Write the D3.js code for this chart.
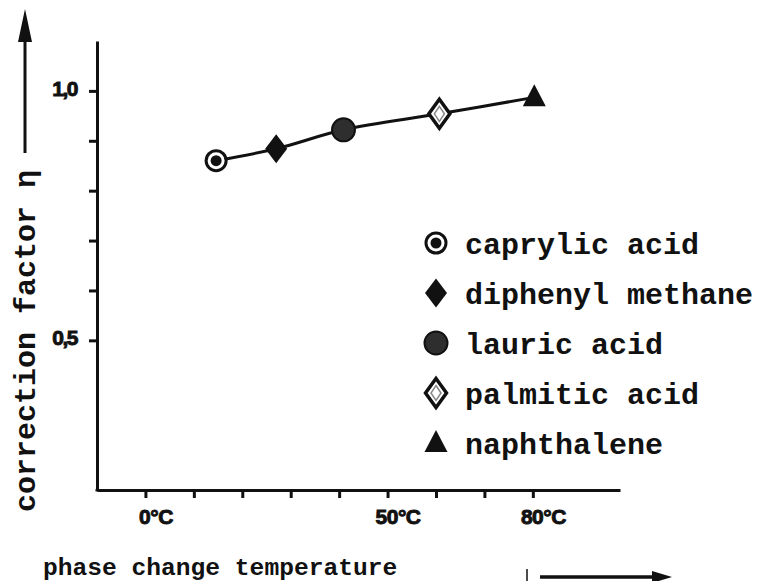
<!DOCTYPE html>
<html>
<head>
<meta charset="utf-8">
<script src="https://cdn.jsdelivr.net/npm/d3@7"></script>
<style>
  body { margin: 0; background: #fff; }
  svg { display: block; }
  .mono { font-family: "Courier New", "Liberation Mono", monospace; font-weight: bold; fill: #111; }
  .tick text { font-family: "Liberation Sans", Arial, sans-serif; font-weight: bold; fill: #111; stroke: #111; stroke-width: 0.9px; }
</style>
</head>
<body>
<svg id="chart" width="763" height="581"></svg>
<script>
// data
var materials = ["caprylic acid", "diphenyl methane", "lauric acid", "palmitic acid", "naphthalene"];
var markerKinds = ["ring", "diamond", "dot", "diamondOpen", "triangle"];
var meltTemps = [14.6, 27.0, 40.9, 60.7, 80.3];
var corrFactors = [0.860, 0.884, 0.922, 0.954, 0.987];

var xTicks = [0, 10, 20, 30, 40, 50, 60, 70, 80];
var xTickLabels = {0: "0°C", 50: "50°C", 80: "80°C"};
var yTicks = [0.5, 0.6, 0.7, 0.8, 0.9, 1.0];
var yTickLabels = {"0.5": "0,5", "1": "1,0"};

var xTitle = "phase change temperature";
var yTitle = "correction factor η";

var svg = d3.select("#chart");
var ink = "#111";

var x = d3.scaleLinear().domain([-10, 98]).range([97, 620]);
var y = d3.scaleLinear().domain([0.2, 1.1]).range([490, 41]);

// axes
var xAxis = svg.append("g")
    .attr("transform", "translate(0," + y(0.2) + ")")
    .call(d3.axisBottom(x)
      .tickValues(xTicks)
      .tickSize(8)
      .tickSizeOuter(0)
      .tickPadding(11)
      .tickFormat(function(d){ return xTickLabels[d] || ""; }));
xAxis.selectAll("text").style("font-size", "21px").attr("dx", 10).attr("letter-spacing", -0.5);

var yAxis = svg.append("g")
    .attr("transform", "translate(" + x(-10) + ",0)")
    .call(d3.axisLeft(y)
      .tickValues(yTicks)
      .tickSize(8)
      .tickSizeOuter(0)
      .tickPadding(12)
      .tickFormat(function(d){ return yTickLabels[String(d)] || ""; }));
yAxis.selectAll("text").style("font-size", "21px").attr("dy", "0.2em").attr("letter-spacing", -1.5);

svg.selectAll(".domain, .tick line").attr("stroke", ink).attr("stroke-width", 3);
// axes should meet in the corner
svg.append("line").attr("x1", x(-10)).attr("x2", x(-10)).attr("y1", y(0.2) - 1).attr("y2", y(0.2) + 1.5)
    .attr("stroke", ink).attr("stroke-width", 3);

// fitted curve
var pts = meltTemps.map(function(t, i){ return [t, corrFactors[i]]; });
var line = d3.line()
    .x(function(d){ return x(d[0]); })
    .y(function(d){ return y(d[1]); })
    .curve(d3.curveCatmullRom);
svg.append("path")
    .datum(pts)
    .attr("d", line)
    .attr("fill", "none")
    .attr("stroke", ink)
    .attr("stroke-width", 3);

function diamond(w, h) {
  return "M0," + (-h) + "L" + w + ",0L0," + h + "L" + (-w) + ",0Z";
}

function drawMarker(g, kind) {
  if (kind === "ring") {
    g.append("circle").attr("r", 11.5).attr("fill", ink);
    g.append("circle").attr("r", 8.5).attr("fill", "#fff");
    g.append("circle").attr("r", 5.5).attr("fill", ink);
  } else if (kind === "diamond") {
    g.append("path").attr("d", diamond(11, 14.5)).attr("fill", ink);
  } else if (kind === "dot") {
    g.append("circle").attr("r", 11.5).attr("fill", "#2e2e2e").attr("stroke", ink).attr("stroke-width", 2);
  } else if (kind === "diamondOpen") {
    g.append("path").attr("d", diamond(10.5, 14.5)).attr("fill", "#fff")
      .attr("stroke", ink).attr("stroke-width", 3.5);
    g.append("path").attr("d", diamond(5, 7.5)).attr("fill", "none")
      .attr("stroke", "#888").attr("stroke-width", 1.5);
  } else if (kind === "triangle") {
    g.append("path").attr("d", "M0,-13L11.5,9L-11.5,9Z").attr("fill", ink);
  }
}

// points
materials.forEach(function(m, i){
  var g = svg.append("g")
      .attr("transform", "translate(" + x(meltTemps[i]) + "," + y(corrFactors[i]) + ")");
  drawMarker(g, markerKinds[i]);
});

// legend
var legend = svg.append("g").attr("transform", "translate(436,243)");
materials.forEach(function(m, i){
  var row = legend.append("g").attr("transform", "translate(0," + (i * 50) + ")");
  drawMarker(row, markerKinds[i]);
  row.append("text")
      .attr("class", "mono")
      .attr("x", 29)
      .attr("y", 11)
      .attr("font-size", 30)
      .text(m);
});

// axis titles with arrows
svg.append("text")
    .attr("class", "mono")
    .attr("transform", "translate(35,512) rotate(-90)")
    .attr("font-size", 30)
    .text(yTitle);
svg.append("line").attr("x1", 25).attr("x2", 25).attr("y1", 153).attr("y2", 38)
    .attr("stroke", ink).attr("stroke-width", 3);
svg.append("path").attr("d", "M25,9L18,42L32,42Z").attr("fill", ink);

svg.append("text")
    .attr("class", "mono")
    .attr("x", 43)
    .attr("y", 575)
    .attr("font-size", 24.6)
    .text(xTitle);
svg.append("line").attr("x1", 527).attr("x2", 527).attr("y1", 569).attr("y2", 581)
    .attr("stroke", ink).attr("stroke-width", 1.5);
svg.append("line").attr("x1", 540).attr("x2", 656).attr("y1", 577).attr("y2", 577)
    .attr("stroke", ink).attr("stroke-width", 3.5);
svg.append("path").attr("d", "M652,571L672,577L652,583Z").attr("fill", ink);
</script>
</body>
</html>
